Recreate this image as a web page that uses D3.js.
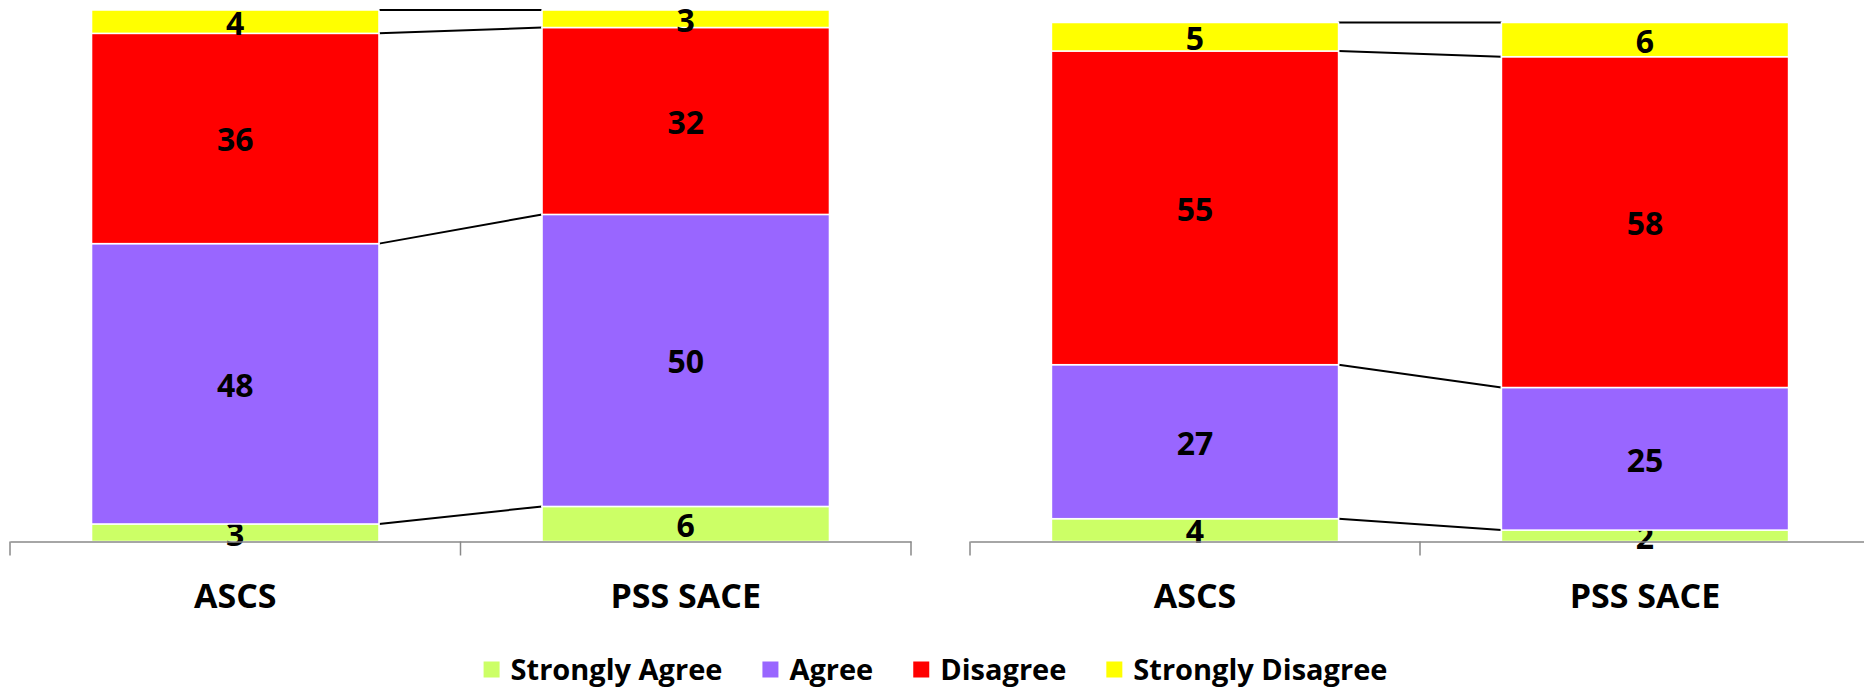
<!DOCTYPE html>
<html>
<head>
<meta charset="utf-8">
<script src="https://cdn.jsdelivr.net/npm/d3@7"></script>
<style>
  body { margin: 0; background: #fff; }
  svg { display: block; }
</style>
</head>
<body>
<script>
// categories and series
var categories = ["ASCS", "PSS SACE"];
var seriesNames = ["Strongly Agree", "Agree", "Disagree", "Strongly Disagree"];
var seriesColors = ["#ccff66", "#9966ff", "#ff0000", "#ffff00"];

// left chart values (ASCS, PSS SACE)
var leftStronglyAgree = [3, 6];
var leftAgree = [48, 50];
var leftDisagree = [36, 32];
var leftStronglyDisagree = [4, 3];

// right chart values (ASCS, PSS SACE)
var rightStronglyAgree = [4, 2];
var rightAgree = [27, 25];
var rightDisagree = [55, 58];
var rightStronglyDisagree = [5, 6];

var yMax = 91;

var width = 1864, height = 688;
var axisY = 541.5;

var svg = d3.select("body").append("svg")
    .attr("width", width)
    .attr("height", height);

// builds row objects for d3.stack
function makeRows(sa, a, d, sd) {
  return categories.map(function(c, i) {
    return {
      cat: c,
      "Strongly Agree": sa[i],
      "Agree": a[i],
      "Disagree": d[i],
      "Strongly Disagree": sd[i]
    };
  });
}

var color = d3.scaleOrdinal().domain(seriesNames).range(seriesColors);

function drawPanel(rows, x0, x1, top) {
  var x = d3.scaleBand()
      .domain(categories)
      .range([x0, x1])
      .padding(0);
  var y = d3.scaleLinear()
      .domain([0, yMax])
      .range([axisY, top]);

  var barW = x.bandwidth() * 0.638;
  var stacked = d3.stack().keys(seriesNames)(rows);

  var g = svg.append("g");

  // series lines between bars
  stacked.forEach(function(s) {
    g.append("line")
      .attr("x1", x(categories[0]) + x.bandwidth() / 2 + barW / 2)
      .attr("x2", x(categories[1]) + x.bandwidth() / 2 - barW / 2)
      .attr("y1", y(s[0][1]))
      .attr("y2", y(s[1][1]))
      .attr("stroke", "#000")
      .attr("stroke-width", 2);
  });

  // stacked segments
  var layer = g.selectAll(".layer")
      .data(stacked)
    .enter().append("g")
      .attr("class", "layer")
      .attr("fill", function(d) { return color(d.key); });

  layer.selectAll("rect")
      .data(function(d) { return d; })
    .enter().append("rect")
      .attr("x", function(d) { return x(d.data.cat) + x.bandwidth() / 2 - barW / 2; })
      .attr("width", barW)
      .attr("y", function(d) { return y(d[1]); })
      .attr("height", function(d) { return y(d[0]) - y(d[1]); })
      .attr("stroke", "#fff")
      .attr("stroke-width", 1.5);

  // value labels
  layer.selectAll("text")
      .data(function(d) { return d; })
    .enter().append("text")
      .attr("x", function(d) { return x(d.data.cat) + x.bandwidth() / 2; })
      .attr("y", function(d) { return (y(d[0]) + y(d[1])) / 2 + 1.5; })
      .attr("dy", "0.357em")
      .attr("text-anchor", "middle")
      .attr("fill", "#000")
      .style("font-family", "'Open Sans', sans-serif")
      .style("font-weight", "bold")
      .style("font-size", "32px")
      .text(function(d) { return d[1] - d[0]; });

  // category axis
  var axis = g.append("g")
      .attr("transform", "translate(0," + axisY + ")")
      .call(d3.axisBottom(x).tickSize(0).tickPadding(42.5));
  axis.select(".domain")
      .attr("stroke", "#898989")
      .attr("stroke-width", 1.5);
  axis.selectAll("text")
      .attr("fill", "#000")
      .style("font-family", "'Open Sans', sans-serif")
      .style("font-weight", "bold")
      .style("font-size", "34px");

  // tick marks sit between categories
  var bounds = categories.map(function(c) { return x(c); }).concat([x1]);
  g.selectAll(".bound")
      .data(bounds)
    .enter().append("line")
      .attr("x1", function(d) { return d; })
      .attr("x2", function(d) { return d; })
      .attr("y1", axisY)
      .attr("y2", axisY + 14)
      .attr("stroke", "#898989")
      .attr("stroke-width", 1.5);
}

drawPanel(makeRows(leftStronglyAgree, leftAgree, leftDisagree, leftStronglyDisagree), 10, 911, 10);
drawPanel(makeRows(rightStronglyAgree, rightAgree, rightDisagree, rightStronglyDisagree), 970, 1870, 22.5);

// legend, centred under both charts
var legend = svg.append("g").attr("transform", "translate(0,669.5)");
var items = legend.selectAll(".item")
    .data(seriesNames)
  .enter().append("g")
    .attr("class", "item");

items.append("rect")
    .attr("y", -8)
    .attr("width", 16)
    .attr("height", 16)
    .attr("fill", function(d) { return color(d); });

items.append("text")
    .attr("x", 27)
    .attr("dy", "0.36em")
    .attr("fill", "#000")
    .style("font-family", "'Open Sans', sans-serif")
    .style("font-weight", "bold")
    .style("font-size", "29px")
    .text(function(d) { return d; });

var pos = [], cur = 0;
items.each(function() {
  var w = 27 + d3.select(this).select("text").node().getComputedTextLength();
  pos.push(cur);
  cur += w + 40;
});
var total = cur - 40;
var startX = 935.5 - total / 2;
items.attr("transform", function(d, i) { return "translate(" + (startX + pos[i]) + ",0)"; });
</script>
</body>
</html>
